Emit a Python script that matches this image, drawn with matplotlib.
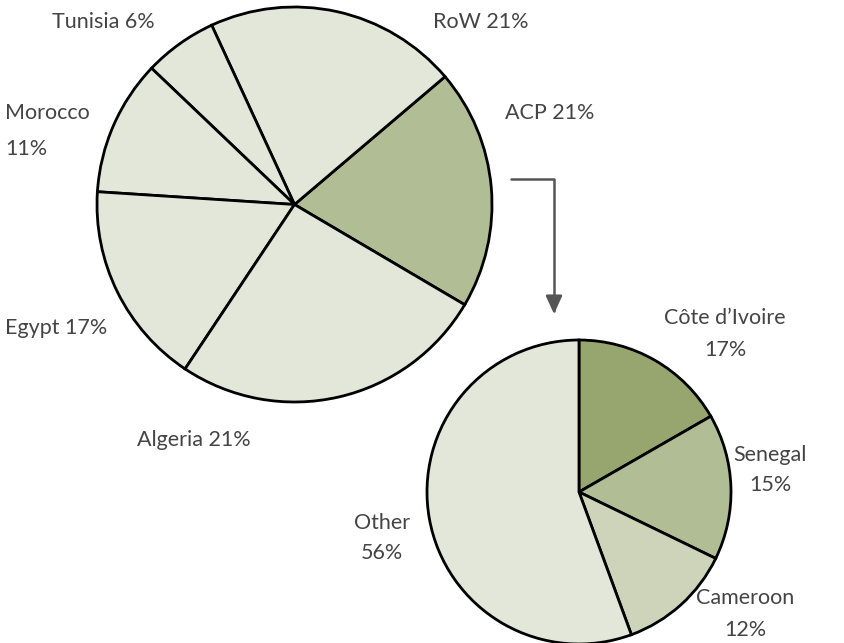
import matplotlib
matplotlib.use("Agg")
import matplotlib.pyplot as plt

# Main pie: origin of imports (slice sizes as drawn), labels as printed
main_labels = ["ACP 21%", "RoW 21%", "Tunisia 6%", "Morocco\n11%", "Egypt 17%", "Algeria 21%"]
main_shares = [19.7, 20.7, 6.0, 11.1, 16.7, 25.9]
main_colors = ["#b1bd94", "#e3e7d9", "#e3e7d9", "#e3e7d9", "#e3e7d9", "#e3e7d9"]

# Breakdown of the ACP slice
acp_labels = ["Côte d’Ivoire\n17%", "Senegal\n15%", "Cameroon\n12%", "Other\n56%"]
acp_shares = [16.7, 15.5, 12.2, 55.6]
acp_colors = ["#97a56f", "#b1bd94", "#cdd4b9", "#e3e7d9"]

W, H = 844, 643
plt.rcParams["font.family"] = ["Lato", "DejaVu Sans"]

fig = plt.figure(figsize=(W / 100, H / 100), dpi=100)
ax = fig.add_axes([0, 0, 1, 1])

edge = {"edgecolor": "black", "linewidth": 2.0}
ax.pie(main_shares, colors=main_colors, startangle=-30.5, counterclock=True,
       center=(294.5, H - 204.5), radius=197.5, wedgeprops=edge)
ax.pie(acp_shares, colors=acp_colors, startangle=90, counterclock=False,
       center=(579, H - 492), radius=152, wedgeprops=edge)

ax.set_xlim(0, W)
ax.set_ylim(0, H)
ax.set_aspect("equal")
ax.axis("off")

# label positions in image pixels (x, y, ha, line spacing)
main_pos = [(505, 113, "left", 1.2), (433, 22, "left", 1.2), (52, 22, "left", 1.2),
            (5, 131, "left", 1.95), (5, 328, "left", 1.2), (137, 440, "left", 1.2)]
acp_pos = [(725, 334, "center", 1.78), (770, 470, "center", 1.68),
           (745, 614, "center", 1.78), (382, 538, "center", 1.63)]

txt = {"fontsize": 15.5, "color": "#444444", "fontweight": "normal"}
for lab, (x, y, ha, ls) in zip(main_labels + acp_labels, main_pos + acp_pos):
    ax.text(x, H - y, lab, ha=ha, va="center", linespacing=ls, **txt)

# elbow arrow from ACP slice down to the breakdown pie
ax.annotate("", xy=(554, H - 314), xytext=(511, H - 179),
            arrowprops=dict(arrowstyle="-|>,head_length=1.1,head_width=0.5",
                            connectionstyle="angle,angleA=0,angleB=90,rad=0",
                            color="#555555", lw=1.8, shrinkA=0, shrinkB=0))

fig.savefig("out.png", dpi=100)
